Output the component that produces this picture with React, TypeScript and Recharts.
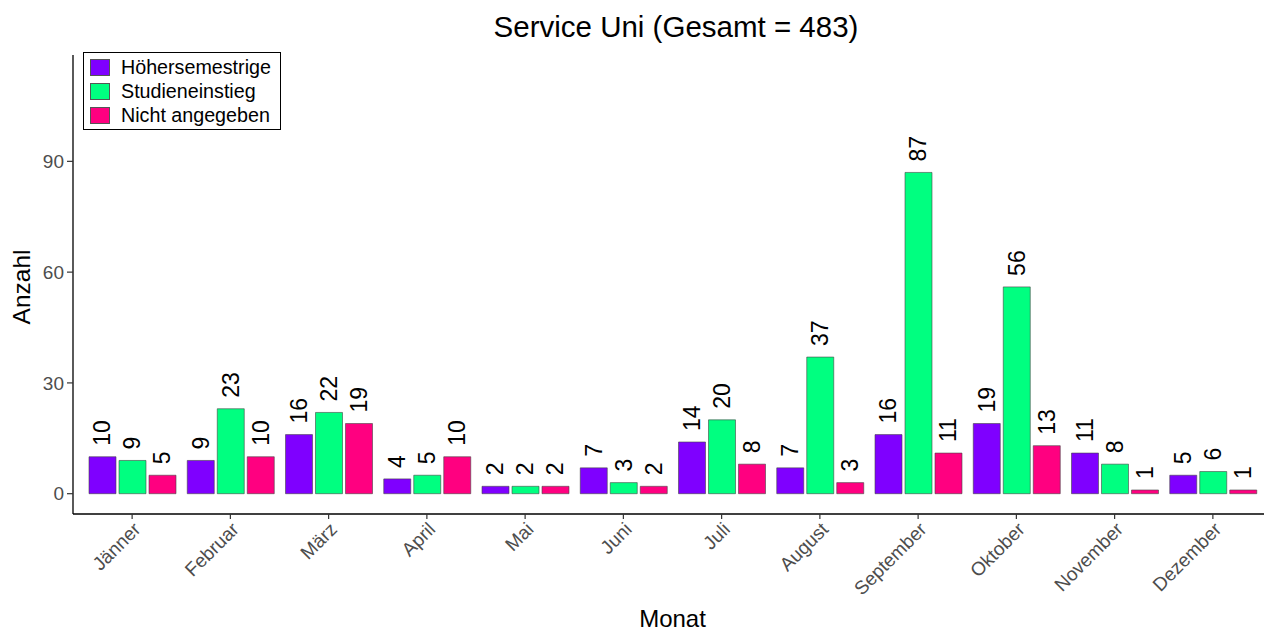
import { BarChart, Bar, XAxis, YAxis, LabelList } from "recharts";

const MONTHS = ["Jänner", "Februar", "März", "April", "Mai", "Juni", "Juli", "August", "September", "Oktober", "November", "Dezember"];
const HOEHER = [10, 9, 16, 4, 2, 7, 14, 7, 16, 19, 11, 5];
const EINSTIEG = [9, 23, 22, 5, 2, 3, 20, 37, 87, 56, 8, 6];
const NICHT = [5, 10, 19, 10, 2, 2, 8, 3, 11, 13, 1, 1];
const Y_TICKS = [0, 30, 60, 90];

const SERIES = [
  { key: "hoeher", name: "Höhersemestrige", color: "#7F00FF" },
  { key: "einstieg", name: "Studieneinstieg", color: "#00FF80" },
  { key: "nicht", name: "Nicht angegeben", color: "#FF0080" },
];

const data = MONTHS.map((m, i) => ({
  month: m,
  hoeher: HOEHER[i],
  einstieg: EINSTIEG[i],
  nicht: NICHT[i],
}));

const FONT = "'Liberation Sans', Arial, sans-serif";

const BarValue = (props: any) => {
  const { x, y, width, value } = props;
  const cx = x + width / 2;
  const ty = y - 11;
  return (
    <text
      x={cx}
      y={ty}
      transform={`rotate(-90 ${cx} ${ty})`}
      textAnchor="start"
      dominantBaseline="central"
      fontSize={23}
      fontFamily={FONT}
      fill="#000"
    >
      {value}
    </text>
  );
};

const MonthTick = ({ x, y, payload }: any) => (
  <text
    x={x}
    y={y}
    transform={`rotate(-45 ${x} ${y})`}
    textAnchor="end"
    dy="0.71em"
    fontSize={19}
    fontFamily={FONT}
    fill="#4d4d4d"
  >
    {payload.value}
  </text>
);

const LegendBox = () => (
  <div style={{
    position: "absolute",
    left: 83,
    top: 52,
    border: "1.5px solid #000",
    background: "#fff",
    padding: "2px 9px 2px 6px",
    fontSize: 19.7,
    color: "#000",
    zIndex: 2,
  }}>
    {SERIES.map((s) => (
      <div key={s.key} style={{ display: "flex", alignItems: "center", height: 24 }}>
        <span style={{ width: 20, height: 17, background: s.color, border: "0.5px solid #555", boxSizing: "border-box", marginRight: 11 }} />
        <span>{s.name}</span>
      </div>
    ))}
  </div>
);

export default function App() {
  return (
    <div style={{ position: "absolute", left: 0, top: 0, width: 1264, height: 632, overflow: "hidden", background: "#fff", fontFamily: FONT }}>
      <div style={{ position: "absolute", left: 80, width: 1192, top: 10, textAlign: "center", fontSize: 29.5, color: "#000", whiteSpace: "nowrap" }}>
        Service Uni (Gesamt = 483)
      </div>
      <div style={{ position: "absolute", left: 73, width: 1199, top: 609, height: 20, lineHeight: "20px", textAlign: "center", fontSize: 24, color: "#000" }}>
        Monat
      </div>
      <div style={{
        position: "absolute", left: 22, top: 287, transform: "translate(-50%, -50%) rotate(-90deg)",
        fontSize: 24.5, color: "#000", whiteSpace: "nowrap",
      }}>
        Anzahl
      </div>
      <LegendBox />
      <BarChart
        width={1272}
        height={632}
        data={data}
        margin={{ top: 55, right: 0, bottom: 0, left: 0 }}
        barSize={27}
        barGap={3}
      >
        <XAxis
          dataKey="month"
          height={118}
          padding={{ left: 10, right: 10 }}
          tick={<MonthTick />}
          tickSize={5}
          tickMargin={2}
          interval={0}
          axisLine={{ stroke: "#000", strokeWidth: 1.3 }}
          tickLine={{ stroke: "#333", strokeWidth: 1.2 }}
        />
        <YAxis
          width={73}
          domain={[-5.5, 118.8]}
          ticks={Y_TICKS}
          allowDataOverflow
          tick={{ fill: "#4d4d4d", fontSize: 19, fontFamily: FONT }}
          tickSize={6}
          tickMargin={3}
          axisLine={{ stroke: "#000", strokeWidth: 1.3 }}
          tickLine={{ stroke: "#333", strokeWidth: 1.2 }}
        />
        {SERIES.map((s) => (
          <Bar
            key={s.key}
            dataKey={s.key}
            name={s.name}
            fill={s.color}
            stroke="#444"
            strokeWidth={0.6}
            isAnimationActive={false}
          >
            <LabelList dataKey={s.key} content={<BarValue />} />
          </Bar>
        ))}
      </BarChart>
    </div>
  );
}
